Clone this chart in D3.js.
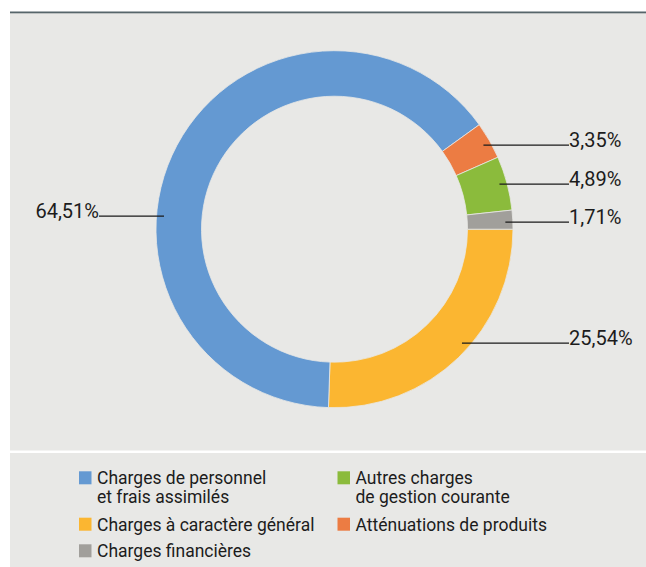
<!DOCTYPE html>
<html>
<head>
<meta charset="utf-8">
<script src="https://cdn.jsdelivr.net/npm/d3@7"></script>
<style>
  body { margin: 0; background: #fff; }
  text { font-family: Roboto, "Noto Sans", sans-serif; fill: #1c1c1c; }
</style>
</head>
<body>
<div id="chart"></div>
<script>
// data, in drawing order starting at 3 o'clock, clockwise
const categories = [
  "Charges à caractère général",
  "Charges de personnel et frais assimilés",
  "Atténuations de produits",
  "Autres charges de gestion courante",
  "Charges financières"
];
const values = [25.54, 64.51, 3.35, 4.89, 1.71];
const labels = ["25,54%", "64,51%", "3,35%", "4,89%", "1,71%"];
const colors = ["#fbb631", "#6499d2", "#ec7c43", "#8bbb3c", "#a19f9b"];

// legend order (rows, two columns)
const legendItems = [
  { lines: ["Charges de personnel", "et frais assimilés"], color: "#6499d2" },
  { lines: ["Autres charges", "de gestion courante"], color: "#8bbb3c" },
  { lines: ["Charges à caractère général"], color: "#fbb631" },
  { lines: ["Atténuations de produits"], color: "#ec7c43" },
  { lines: ["Charges financières"], color: "#a19f9b" }
];

const W = 646, H = 567;
const cx = 334.5, cy = 229.2, R = 178.5, r = 133;
// manual label placement (offset of leader line from centre, side)
const labelDy = [114, -13, -84, -45, -7];
const labelSide = [1, -1, 1, 1, 1];

const svg = d3.select("#chart").append("svg")
  .attr("width", W).attr("height", H);

// panels
svg.append("rect").attr("x", 10).attr("y", 12).attr("width", W - 10).attr("height", 438.5)
  .attr("fill", "#e8e8e6");
svg.append("rect").attr("x", 10).attr("y", 11.5).attr("width", W - 10).attr("height", 1.8)
  .attr("fill", "#56656a");
svg.append("rect").attr("x", 10).attr("y", 453).attr("width", W - 10).attr("height", H - 453)
  .attr("fill", "#e8e8e6");

const pie = d3.pie().sort(null).value(d => d)
  .startAngle(Math.PI / 2).endAngle(Math.PI / 2 + 2 * Math.PI);
const arcs = pie(values);
const arc = d3.arc().innerRadius(r).outerRadius(R);

const g = svg.append("g").attr("transform", `translate(${cx},${cy})`);
g.selectAll("path.slice")
  .data(arcs)
  .enter()
  .append("path")
  .attr("class", "slice")
  .attr("d", arc)
  .attr("fill", (d, i) => colors[i])
  .attr("stroke", "#e8e8e6")
  .attr("stroke-width", 0.8);

// leader lines + labels
const rLead = 171;
const lab = g.selectAll("g.lab").data(arcs).enter().append("g").attr("class", "lab");
lab.append("line")
  .attr("x1", (d, i) => labelSide[i] * Math.sqrt(rLead * rLead - labelDy[i] * labelDy[i]))
  .attr("x2", (d, i) => labelSide[i] > 0 ? 569 - cx : 99 - cx)
  .attr("y1", (d, i) => labelDy[i])
  .attr("y2", (d, i) => labelDy[i])
  .attr("stroke", "#1a1a1a")
  .attr("stroke-width", 1.3);
lab.append("text")
  .attr("x", (d, i) => labelSide[i] > 0 ? 569 - cx : 99 - cx)
  .attr("y", (d, i) => labelDy[i] + 2)
  .attr("text-anchor", (d, i) => labelSide[i] > 0 ? "start" : "end")
  .style("font-size", "20px")
  .text((d, i) => labels[i]);

// legend
const colX = [79, 337.5];
const rowY = [484.3, 530.7, 557.3];
const leg = svg.selectAll("g.legend")
  .data(legendItems)
  .enter()
  .append("g")
  .attr("class", "legend")
  .attr("transform", (d, i) => `translate(${colX[i % 2]},${rowY[Math.floor(i / 2)]})`);
leg.append("rect")
  .attr("x", 0).attr("y", -13).attr("width", 12.5).attr("height", 13)
  .attr("fill", d => d.color);
leg.append("text")
  .attr("x", 18)
  .style("font-size", "17.5px")
  .selectAll("tspan")
  .data(d => d.lines)
  .enter()
  .append("tspan")
  .attr("x", 18)
  .attr("dy", (d, i) => i === 0 ? 0 : 18.5)
  .text(d => d);
</script>
</body>
</html>
